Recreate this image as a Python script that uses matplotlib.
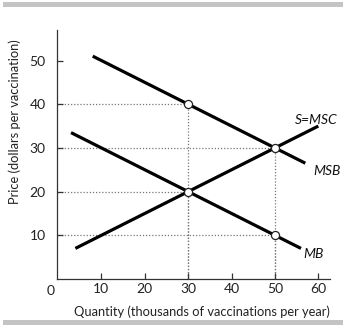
import matplotlib
matplotlib.use("Agg")
import matplotlib.pyplot as plt
import matplotlib.transforms as mtransforms
from matplotlib.patches import Rectangle

# curve endpoints (quantity, price)
msb_q = [8, 57]
msb_p = [51, 26.5]
mb_q = [3, 56]
mb_p = [33.5, 7]
msc_q = [4, 60]
msc_p = [7, 35]

# marked points
pts_q = [30, 50, 30, 50]
pts_p = [40, 30, 20, 10]

xticks = [10, 20, 30, 40, 50, 60]
yticks = [10, 20, 30, 40, 50]

curve_labels = ["S=MSC", "MSB", "MB"]
label_pos_q = [59.5, 62.0, 59.0]
label_pos_p = [36.3, 24.8, 5.8]

plt.rcParams['font.family'] = ['Lato', 'DejaVu Sans']

fig = plt.figure(figsize=(3.46, 3.29), dpi=100)
ax = fig.add_axes([0.1639, 0.152, 0.79, 0.757])

# gray bars at top and bottom of the figure
fig.patches.append(Rectangle((3 / 346, 1 - 7 / 329), 340 / 346, 5 / 329,
                             transform=fig.transFigure, color='#c4c4c4', lw=0))
fig.patches.append(Rectangle((3 / 346, 1 - 325 / 329), 340 / 346, 5 / 329,
                             transform=fig.transFigure, color='#c4c4c4', lw=0))

# dotted guide lines
for q, p in zip(pts_q, pts_p):
    ax.plot([0, q], [p, p], ls=(0, (1, 1.5)), color='#777777', lw=0.9, zorder=1)
    ax.plot([q, q], [0, p], ls=(0, (1, 1.5)), color='#777777', lw=0.9, zorder=1)

ax.plot(msb_q, msb_p, color='black', lw=2.3, solid_capstyle='butt', zorder=2)
ax.plot(mb_q, mb_p, color='black', lw=2.3, solid_capstyle='butt', zorder=2)
ax.plot(msc_q, msc_p, color='black', lw=2.3, solid_capstyle='butt', zorder=2)

ax.scatter(pts_q, pts_p, s=34, facecolor='white', edgecolor='#222222',
           linewidth=0.9, zorder=3)

for txt, q, p in zip(curve_labels, label_pos_q, label_pos_p):
    ax.text(q, p, txt, ha='center', va='center', fontsize=10,
            style='italic', color='#111111')

ax.set_xlim(-0.3, 62.7)
ax.set_ylim(0, 57)
ax.set_xticks(xticks)
ax.set_yticks(yticks)
ax.tick_params(direction='in', length=4, width=0.9, colors='#333333',
               labelsize=10, labelcolor='#222222')
ax.tick_params(axis='y', pad=8)
ax.tick_params(axis='x', pad=3)

for side in ['top', 'right']:
    ax.spines[side].set_visible(False)
for side in ['left', 'bottom']:
    ax.spines[side].set_color('#333333')
    ax.spines[side].set_linewidth(0.9)

# lone "0" at the origin, set a bit left of the corner
off = mtransforms.ScaledTranslation(-7 / 100, -6 / 100, fig.dpi_scale_trans)
ax.text(0, 0, "0", transform=ax.transData + off, ha='center', va='top',
        fontsize=10, color='#222222')

fig.text(201.7 / 346, 1 - 311.7 / 329,
         "Quantity (thousands of vaccinations per year)",
         ha='center', va='center', fontsize=9.3, color='#222222')
fig.text(15 / 346, 1 - 122 / 329, "Price (dollars per vaccination)",
         ha='center', va='center', rotation=90, fontsize=9.3, color='#222222')

fig.savefig("out.png", dpi=100)
